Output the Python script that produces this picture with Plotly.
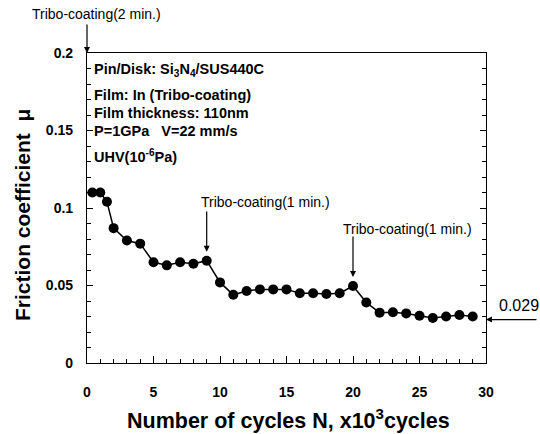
import plotly.graph_objects as go

cycles = [0.4, 1, 1.5, 2, 3, 4, 5, 6, 7, 8, 9, 10, 11, 12, 13, 14, 15, 16, 17, 18, 19,
          20, 21, 22, 23, 24, 25, 26, 27, 28, 29]
friction = [0.110, 0.110, 0.104, 0.087, 0.079, 0.077, 0.065, 0.063, 0.065, 0.064, 0.066,
            0.052, 0.044, 0.0465, 0.0475, 0.0475, 0.0475, 0.045, 0.045, 0.0445, 0.045,
            0.0497, 0.039, 0.0325, 0.0327, 0.032, 0.0305, 0.029, 0.030, 0.031, 0.030]

x_ticks = [0, 5, 10, 15, 20, 25, 30]
y_ticks = [0, 0.05, 0.1, 0.15, 0.2]
y_ticktext = ["0", "0.05", "0.1", "0.15", "0.2"]
info_lines = [
    "Pin/Disk: Si<sub>3</sub>N<sub>4</sub>/SUS440C",
    "Film: In (Tribo-coating)",
    "Film thickness: 110nm",
    "P=1GPa   V=22 mm/s",
    "UHV(10<sup>-6</sup>Pa)",
]
info_y_px = [70, 95, 113, 131, 156]

FONT = "Liberation Sans, Arial, sans-serif"

fig = go.Figure()
fig.add_trace(go.Scatter(
    x=cycles, y=friction, mode="lines+markers",
    line=dict(color="black", width=1.5),
    marker=dict(color="black", size=10, line=dict(width=0)),
    showlegend=False, cliponaxis=False,
))
# invisible trace to hold the right-side mirrored axis
fig.add_trace(go.Scatter(x=[cycles[0]], y=[friction[0]], yaxis="y2", mode="markers",
                         marker=dict(opacity=0), showlegend=False, hoverinfo="skip"))

L, R, T, B = 87, 54, 53, 71
H = 434
W = 540
plot_h = H - T - B
plot_w = W - L - R

def py(pix):
    return 1 - (pix - T) / plot_h

def px(pix):
    return (pix - L) / plot_w

anns = []
for txt, yp in zip(info_lines, info_y_px):
    anns.append(dict(xref="paper", yref="paper", x=px(92), y=py(yp), xanchor="left",
                     yanchor="middle", text=txt, showarrow=False,
                     font=dict(family=FONT, size=14.5, color="black", weight="bold")))

arrow_style = dict(showarrow=True, arrowhead=2, arrowsize=1, arrowwidth=1.2,
                   arrowcolor="black", text="")
anns.append(dict(xref="x", yref="y", x=0, y=0.2, ax=0, ay=-30, **arrow_style))
anns.append(dict(xref="paper", yref="paper", x=px(30), y=py(14), xanchor="left",
                 yanchor="middle", text="Tribo-coating(2 min.)", showarrow=False,
                 font=dict(family=FONT, size=14, color="black")))
anns.append(dict(xref="x", yref="y", x=9, y=0.0718, axref="x", ayref="y", ax=9, ay=0.0987,
                 **arrow_style))
anns.append(dict(xref="x", yref="y", x=8.4, y=0.104, xanchor="left", yanchor="middle",
                 text="Tribo-coating(1 min.)", showarrow=False,
                 font=dict(family=FONT, size=14, color="black")))
anns.append(dict(xref="x", yref="y", x=20, y=0.0555, axref="x", ayref="y", ax=20, ay=0.0826,
                 **arrow_style))
anns.append(dict(xref="x", yref="y", x=19.1, y=0.0865, xanchor="left", yanchor="middle",
                 text="Tribo-coating(1 min.)", showarrow=False,
                 font=dict(family=FONT, size=14, color="black")))
anns.append(dict(xref="x", yref="y", x=30, y=0.028, ax=52, ay=0, **arrow_style))
anns.append(dict(xref="x", yref="y", x=30, y=0.0374, xshift=11, xanchor="left",
                 yanchor="middle", text="0.029", showarrow=False,
                 font=dict(family=FONT, size=16, color="black")))
anns.append(dict(xref="paper", yref="paper", x=px(288), y=py(419),
                 xanchor="center", yanchor="middle",
                 text="Number of cycles N, x10<sup>3</sup>cycles", showarrow=False,
                 font=dict(family=FONT, size=21.5, color="black", weight="bold")))
anns.append(dict(xref="paper", yref="paper", x=px(22), y=py(215),
                 xanchor="center", yanchor="middle", textangle=-90,
                 text="Friction coefficient  \u03bc", showarrow=False,
                 font=dict(family=FONT, size=21, color="black", weight="bold")))

tickfont = dict(family=FONT, size=14, color="black", weight="bold")
fig.update_layout(
    width=W, height=H,
    margin=dict(l=L, r=R, t=T, b=B, pad=0),
    paper_bgcolor="white", plot_bgcolor="white",
    annotations=anns,
    xaxis=dict(range=[0, 30], tickvals=x_ticks, ticktext=[str(v) for v in x_ticks],
               showgrid=False, zeroline=False, showline=True, linecolor="black",
               linewidth=1.2, mirror=True, ticks="inside", ticklen=7, tickwidth=1,
               tickcolor="black", ticklabelstandoff=16, tickfont=tickfont,
               minor=dict(dtick=1, ticks="inside", ticklen=4, tickcolor="black",
                          showgrid=False)),
    yaxis=dict(range=[0, 0.2], tickvals=y_ticks, ticktext=y_ticktext,
               showgrid=False, zeroline=False, showline=True, linecolor="black",
               linewidth=1.2, ticks="inside", ticklen=6, tickwidth=1,
               tickcolor="black", ticklabelstandoff=10, tickfont=tickfont,
               minor=dict(dtick=0.01, ticks="inside", ticklen=4, tickcolor="black",
                          showgrid=False)),
    yaxis2=dict(range=[0, 0.2], overlaying="y", side="right", tickvals=y_ticks,
                showticklabels=False, showgrid=False, zeroline=False, showline=True,
                linecolor="black", linewidth=1.2, ticks="inside", ticklen=6, tickwidth=1,
                tickcolor="black",
                minor=dict(dtick=0.01, ticks="inside", ticklen=4, tickcolor="black",
                           showgrid=False)),
)

fig.write_html("out.html")
